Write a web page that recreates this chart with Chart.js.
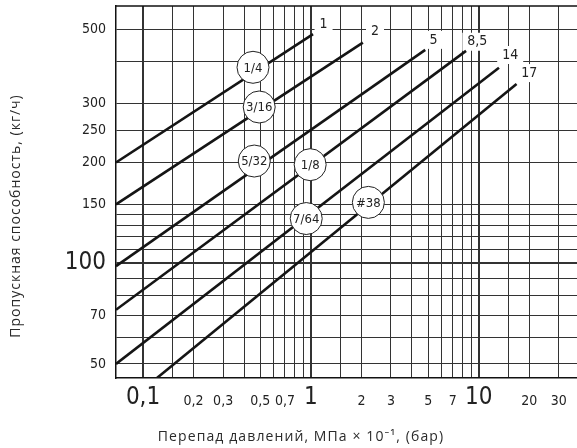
<!DOCTYPE html>
<html><head><meta charset="utf-8">
<script src="https://cdn.jsdelivr.net/npm/chart.js@4/dist/chart.umd.min.js"></script>
<style>html,body{margin:0;padding:0;background:#fff;}#wrap{position:relative;width:577px;height:448px;}</style>
</head><body><div id="wrap"><canvas id="c"></canvas></div>
<script>
// Series (orifice sizes), line end labels and read-off endpoints
const seriesNames = ['1/4', '3/16', '5/32', '1/8', '7/64', '#38'];
const endLabels   = ['1', '2', '5', '8,5', '14', '17'];
const startX = [0.069, 0.069, 0.069, 0.069, 0.069, 0.121];
const startY = [200, 150, 98, 72.6, 50, 45.4];
const endX   = [1.03, 2.04, 4.8, 8.4, 13.2, 16.8];
const endY   = [484, 456, 434, 431, 384, 343];
// circle marker positions on each line
const circleX = [0.452, 0.492, 0.46, 0.99, 0.938, 2.2];
const circleY = [385, 293, 202, 197, 136, 152];
// end-label positions
const endLabelX = [1.19, 2.41, 5.37, 9.81, 15.4, 20.0];
const endLabelY = [519, 492, 465, 459, 419, 370];
// ticks
const xTickValues = [0.1, 0.15, 0.2, 0.3, 0.4, 0.5, 0.6, 0.7, 0.8, 0.9, 1, 1.5, 2, 3, 4, 5, 6, 7, 8, 9, 10, 15, 20, 30];
const xTickText   = ['0,1', '', '0,2', '0,3', '', '0,5', '', '0,7', '', '', '1', '', '2', '3', '', '5', '', '7', '', '', '10', '', '20', '30'];
const xBigTicks = [0.1, 1, 10];
const yTickValues = [50, 60, 70, 80, 90, 100, 110, 120, 130, 140, 150, 200, 250, 300, 400, 500];
const yTickText   = ['50', '', '70', '', '', '100', '', '', '', '', '150', '200', '250', '300', '', '500'];
const yBigTicks = [100];
const xTitle = 'Перепад давлений, МПа × 10⁻¹, (бар)';
const yTitle = 'Пропускная способность, (кг/ч)';

const FAM = "'DejaVu Sans Condensed','Liberation Sans Narrow','Liberation Sans',Arial,sans-serif";
const TFAM = "'Open Sans','Noto Sans',sans-serif";

const datasets = [{
  type: 'scatter', label: 'circles', order: 0,
  data: circleX.map((v, i) => ({x: v, y: circleY[i]})),
  pointRadius: 16, pointHoverRadius: 16, pointBackgroundColor: '#fff',
  pointBorderColor: '#222', pointBorderWidth: 1, showLine: false
}];
seriesNames.forEach((n, i) => {
  datasets.push({
    type: 'line', label: n, order: 1,
    data: [{x: startX[i], y: startY[i]}, {x: endX[i], y: endY[i]}],
    borderColor: '#151515', borderWidth: 2.6, pointRadius: 0, fill: false, tension: 0
  });
});

const annot = {
  id: 'annot',
  beforeDatasetsDraw(chart) {
    const {ctx, chartArea: a, scales: {x, y}} = chart;
    ctx.save();
    ctx.strokeStyle = '#111'; ctx.lineWidth = 1.5;
    ctx.beginPath(); ctx.moveTo(a.left, a.top); ctx.lineTo(a.right, a.top); ctx.stroke();
    ctx.font = '14px ' + FAM;
    ctx.textAlign = 'center'; ctx.textBaseline = 'middle';
    endLabels.forEach((t, i) => {
      const px = x.getPixelForValue(endLabelX[i]), py = y.getPixelForValue(endLabelY[i]);
      const w = ctx.measureText(t).width;
      ctx.fillStyle = '#fff'; ctx.fillRect(px - w / 2 - 5, py - 9, w + 10, 18);
      ctx.fillStyle = '#222'; ctx.fillText(t, px, py);
    });
    ctx.restore();
  },
  afterDatasetsDraw(chart) {
    const {ctx, scales: {x, y}} = chart;
    ctx.save();
    ctx.font = '13px ' + FAM;
    ctx.fillStyle = '#222'; ctx.textAlign = 'center'; ctx.textBaseline = 'middle';
    seriesNames.forEach((t, i) => {
      ctx.fillText(t, x.getPixelForValue(circleX[i]), y.getPixelForValue(circleY[i]) + 1);
    });
    ctx.restore();
  },
  afterDraw(chart) {
    const {ctx} = chart;
    ctx.save();
    ctx.fillStyle = '#2a2a2a';
    ctx.font = '14px ' + TFAM;
    ctx.textAlign = 'center'; ctx.textBaseline = 'middle';
    ctx.letterSpacing = '1.1px';
    ctx.fillText(xTitle, 301, 437);
    ctx.letterSpacing = '1px';
    ctx.translate(16, 216); ctx.rotate(-Math.PI / 2);
    ctx.fillText(yTitle, 0, 0);
    ctx.restore();
  }
};

function noPad(s) { s.paddingLeft = 0; s.paddingRight = 0; s.paddingTop = 0; s.paddingBottom = 0; }

new Chart(document.getElementById('c'), {
  data: {datasets},
  options: {
    responsive: true, maintainAspectRatio: false, animation: false,
    layout: {autoPadding: false, padding: {left: 0, top: 6, right: 0, bottom: 0}},
    plugins: {legend: {display: false}, tooltip: {enabled: false}},
    scales: {
      x: {
        type: 'logarithmic', min: 0.069, max: 38.5,
        afterBuildTicks: s => { s.ticks = xTickValues.map(v => ({value: v})); },
        afterFit: s => { s.height = 70; noPad(s); },
        grid: {
          drawTicks: false, color: '#333',
          lineWidth: c => (c.tick && xBigTicks.includes(c.tick.value)) ? 2 : 1
        },
        border: {display: true, color: '#111', width: 1.5},
        ticks: {
          autoSkip: false, maxRotation: 0, minRotation: 0, padding: 2, color: '#222',
          callback: (v, i) => xTickText[i],
          font: c => (c.tick && xBigTicks.includes(c.tick.value))
            ? {family: FAM, size: 24, lineHeight: 1.475}
            : {family: FAM, size: 14, lineHeight: 3.02}
        }
      },
      y: {
        type: 'logarithmic', min: 45.4, max: 587,
        afterBuildTicks: s => { s.ticks = yTickValues.map(v => ({value: v})); },
        afterFit: s => { s.width = 116; noPad(s); },
        grid: {
          drawTicks: false, color: '#333',
          lineWidth: c => (c.tick && yBigTicks.includes(c.tick.value)) ? 2 : 1
        },
        border: {display: true, color: '#111', width: 1.5},
        ticks: {
          autoSkip: false, padding: 10, color: '#222',
          callback: (v, i) => yTickText[i],
          font: c => (c.tick && yBigTicks.includes(c.tick.value))
            ? {family: FAM, size: 24}
            : {family: FAM, size: 14}
        }
      }
    }
  },
  plugins: [annot]
});
</script></body></html>
